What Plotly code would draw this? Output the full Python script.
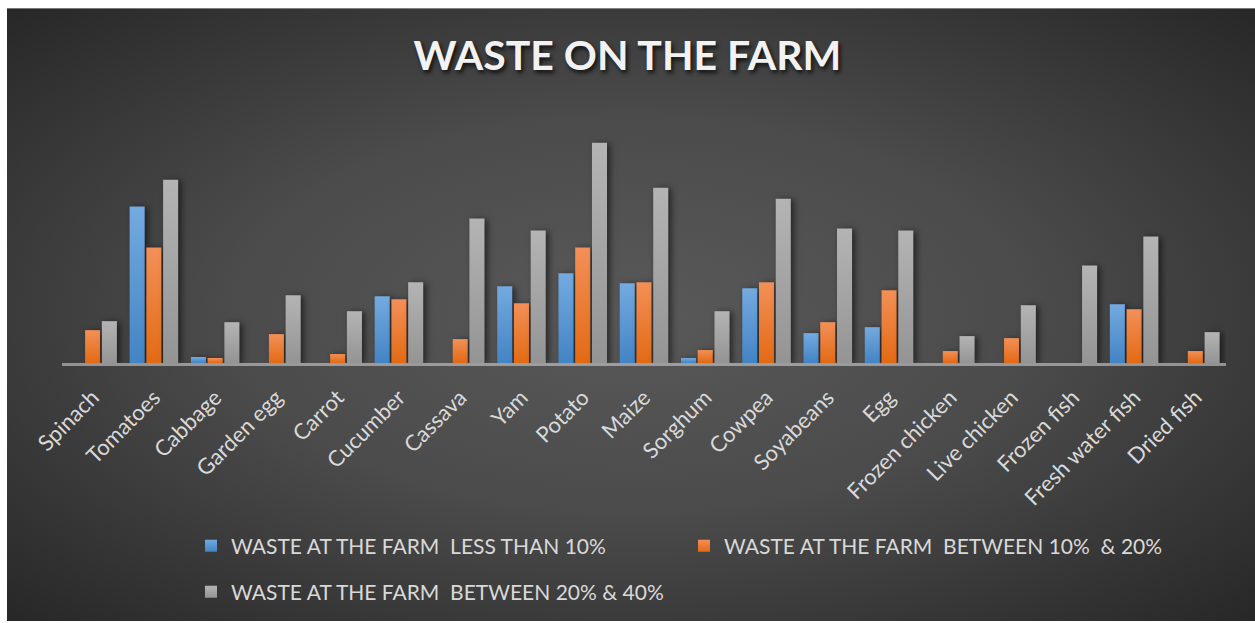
import base64
import plotly.graph_objects as go

# Crops and their waste shares at farm level
categories = ["Spinach", "Tomatoes", "Cabbage", "Garden egg", "Carrot", "Cucumber",
              "Cassava", "Yam", "Potato", "Maize", "Sorghum", "Cowpea", "Soyabeans",
              "Egg", "Frozen chicken", "Live chicken", "Frozen fish",
              "Fresh water fish", "Dried fish"]

less_than_10 = [0, 157, 6, 0, 0, 67, 0, 77, 90, 80, 5, 75, 30, 36, 0, 0, 0, 59, 0]
between_10_20 = [33, 116, 5, 29, 9, 64, 24, 60, 116, 81, 13, 81, 41, 73, 12, 25, 0, 54, 12]
between_20_40 = [42, 184, 41, 68, 52, 81, 145, 133, 221, 176, 52, 165, 135, 133, 27, 58, 98, 127, 31]

series_names = ["WASTE AT THE FARM\u00a0 LESS THAN 10%",
                "WASTE AT THE FARM\u00a0 BETWEEN 10%\u00a0 & 20%",
                "WASTE AT THE FARM\u00a0 BETWEEN 20% & 40%"]

W, H = 1255, 623
L, R, T, B = 62, 29, 104, 259
PW, PH = W - L - R, H - T - B

FONT = "Lato"
TEXT = "#d9d9d9"

colors = ["#5b9bd5", "#ed7d31", "#a5a5a5"]
grad = [("#74aae0", "#4384c4"), ("#f39058", "#e36a14"), ("#b4b4b4", "#949494")]

fig = go.Figure()
for i, (name, vals) in enumerate(zip(series_names, [less_than_10, between_10_20, between_20_40])):
    fig.add_trace(go.Bar(
        x=categories, y=vals, name=name,
        marker=dict(color=colors[i], line=dict(width=0)),
        legend="legend" if i == 0 else f"legend{i + 1}",
        hoverinfo="x+y+name",
    ))

# Radial-gradient backdrop with a thin white frame
bg_svg = f"""<svg xmlns='http://www.w3.org/2000/svg' width='{W}' height='{H}' viewBox='0 0 {W} {H}' preserveAspectRatio='none'>
<defs><radialGradient id='bg' cx='50%' cy='50%' r='72%'>
<stop offset='0' stop-color='#595959'/><stop offset='0.45' stop-color='#4b4b4b'/><stop offset='1' stop-color='#262626'/>
</radialGradient></defs>
<rect x='0' y='0' width='{W}' height='{H}' fill='#ffffff'/>
<rect x='7' y='8' width='{W - 7}' height='{H - 8}' fill='url(#bg)'/>
</svg>"""
bg_uri = "data:image/svg+xml;base64," + base64.b64encode(bg_svg.encode()).decode()

def px_x(px):
    return (px - L) / PW

def px_y(py):
    return (H - B - py) / PH

legend_common = dict(orientation="h", xanchor="left", yanchor="middle",
                     bgcolor="rgba(0,0,0,0)", borderwidth=0,
                     font=dict(family=FONT, size=21, color=TEXT))

fig.update_layout(
    width=W, height=H,
    margin=dict(l=L, r=R, t=T, b=B, pad=0),
    paper_bgcolor="#ffffff",
    plot_bgcolor="rgba(0,0,0,0)",
    barmode="group", bargap=0.18, bargroupgap=0.1,
    title=dict(text="<b>WASTE ON THE FARM</b>", x=0.5, xanchor="center",
               xref="container", yref="container", y=1 - 56 / H, yanchor="middle",
               font=dict(family=FONT, size=41, color="#f2f2f2",
                         shadow="2px 3px 4px rgba(0,0,0,0.75)")),
    xaxis=dict(showline=True, linecolor="rgba(217,217,217,0.55)", linewidth=3,
               showgrid=False, zeroline=False, ticks="", tickangle=-45,
               ticklabelstandoff=10,
               tickfont=dict(family=FONT, size=22, color=TEXT)),
    yaxis=dict(range=[0, PH], visible=False, showgrid=False, zeroline=False),
    legend=dict(**legend_common, x=px_x(191), y=px_y(546)),
    legend2=dict(**legend_common, x=px_x(684), y=px_y(546)),
    legend3=dict(**legend_common, x=px_x(191), y=px_y(592)),
    images=[dict(source=bg_uri, xref="paper", yref="paper",
                 x=-L / PW, y=1 + T / PH, sizex=W / PW, sizey=H / PH,
                 xanchor="left", yanchor="top", sizing="stretch", layer="below")],
    showlegend=True,
)

# Vertical shading on bars and legend swatches, plus a soft drop shadow on bars
stops_js = ",".join(
    f"'{c}':['{a}','{b}']" for c, (a, b) in zip(
        ["rgb(91, 155, 213)", "rgb(237, 125, 49)", "rgb(165, 165, 165)"], grad))
post_script = """
var gd = document.getElementById('{plot_id}');
var ns = 'http://www.w3.org/2000/svg';
var shades = {""" + stops_js + """};
var svg = gd.querySelector('svg.main-svg');
var defs = svg.querySelector('defs');
var ids = {};
Object.keys(shades).forEach(function(key, i){
  var g = document.createElementNS(ns, 'linearGradient');
  g.setAttribute('id', 'barshade' + i);
  g.setAttribute('x1', '0'); g.setAttribute('y1', '0');
  g.setAttribute('x2', '0'); g.setAttribute('y2', '1');
  [[0, shades[key][0]], [1, shades[key][1]]].forEach(function(s){
    var st = document.createElementNS(ns, 'stop');
    st.setAttribute('offset', s[0]); st.setAttribute('stop-color', s[1]);
    g.appendChild(st);
  });
  defs.appendChild(g);
  ids[key] = 'url(#barshade' + i + ')';
});
gd.querySelectorAll('.barlayer .point path').forEach(function(p){
  var f = p.style.fill;
  if (ids[f]) {
    p.style.fill = ids[f];
    p.style.filter = 'drop-shadow(3px 1px 3px rgba(0,0,0,0.55))';
  }
});
gd.querySelectorAll('.legendpoints path').forEach(function(p){
  var f = p.style.fill;
  if (ids[f]) { p.style.fill = ids[f]; }
});
"""

fig.write_html("out.html", post_script=post_script)
